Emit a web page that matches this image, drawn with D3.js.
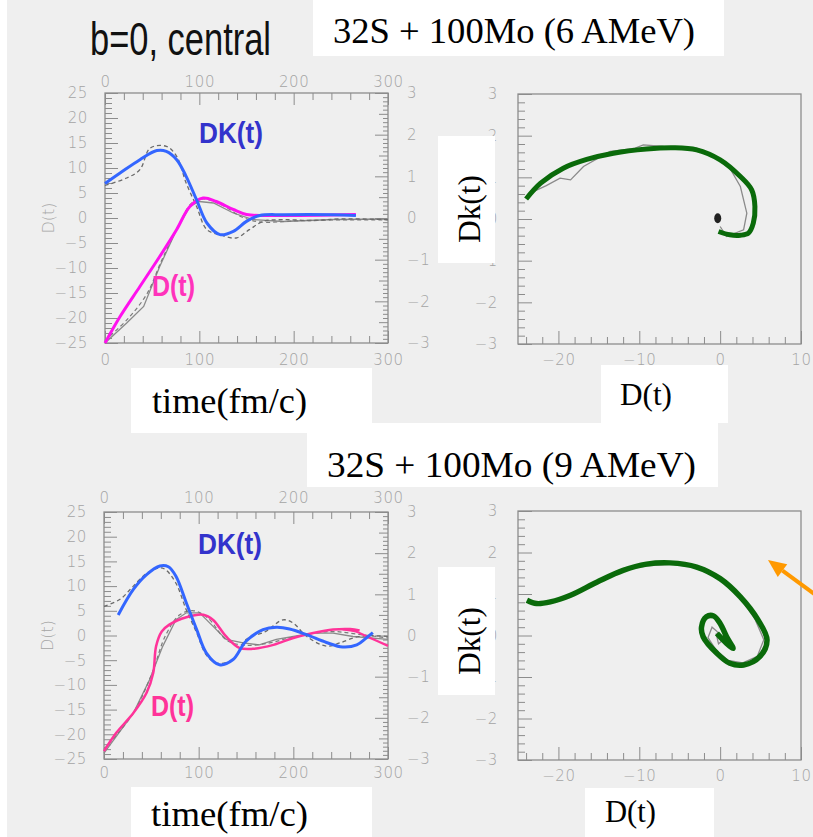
<!DOCTYPE html>
<html><head><meta charset="utf-8">
<script src="https://cdn.jsdelivr.net/npm/d3@7"></script>
<style>body{margin:0;background:#fff}svg{display:block}</style>
</head><body><svg id="c" width="813" height="837"></svg>
<script>
// ---------- tick values ----------
const timeTicks = [0, 100, 200, 300];
const dTicks = [-25, -20, -15, -10, -5, 0, 5, 10, 15, 20, 25];
const dkTicks = [-3, -2, -1, 0, 1, 2, 3];
const phaseXTicks = [-20, -10, 0, 10];

// ---------- 32S + 100Mo (6 AMeV) : time evolution ----------
// [time fm/c, value]; DK values on right axis (-3..3), D values on left axis (-25..25)
const dk6 = [[0,0.83],[16,1.08],[37,1.40],[55,1.62],[65,1.60],[76,1.40],[86,1.00],[97,0.44],[108,-0.12],[122,-0.40],[136,-0.32],[150,-0.08],[164,0.06],[189,0.08],[242,0.08],[266,0.06]];
const d6 = [[0,-25],[16,-19.7],[37,-13.7],[58,-7.7],[76,-2.3],[90,2.3],[104,4.0],[118,3.3],[136,1.7],[150,0.7],[171,0.5],[266,0.7]];
const d6Sim = [[0,-25],[23,-21],[41,-17.7],[58,-9.7],[76,-2.3],[90,2.3],[100,3.3],[115,3.0],[136,1.0],[157,-0.3],[189,-0.7],[242,-0.3],[300,-0.2]];
const d6SimDash = [[0,-24.5],[25,-20],[45,-15],[60,-8.5],[78,-1.5],[92,3.0],[105,3.8],[125,2.5],[145,0.2],[165,-0.8],[200,-0.6],[240,-0.4],[300,-0.4]];
const dk6SimDash = [[0,0.78],[23,0.96],[37,1.16],[48,1.68],[65,1.72],[76,1.48],[86,0.84],[97,0.28],[108,-0.28],[122,-0.40],[139,-0.48],[153,-0.28],[168,-0.08],[190,-0.04],[220,-0.06],[250,-0.02],[300,-0.04]];

// ---------- 32S + 100Mo (9 AMeV) : time evolution ----------
const dk9 = [[15,0.50],[31,1.12],[45,1.48],[59,1.69],[68,1.67],[76,1.44],[87,0.79],[98,0.14],[108,-0.42],[122,-0.71],[136,-0.59],[150,-0.14],[168,0.14],[182,0.20],[196,0.16],[214,0.02],[235,-0.17],[252,-0.28],[267,-0.23],[277,-0.06],[284,0.07]];
const d9 = [[0,-23.4],[13,-19.7],[31,-15.7],[45,-11.6],[52,-7.6],[55,-2.2],[61,0.8],[69,2.2],[87,3.7],[105,4.2],[115,3.2],[129,-0.2],[143,-2.5],[157,-2.7],[179,-1.9],[200,-0.5],[221,0.5],[242,1.2],[260,1.3],[270,1.0]];
const d9Tail = [[252,1.25],[266,0.8],[280,-0.4],[300,-2.1]];
const d9Sim = [[0,-23.8],[13,-20.4],[31,-15.7],[48,-9],[62,-2.2],[76,3.2],[87,4.6],[101,4.6],[115,1.9],[129,-0.8],[147,-1.5],[164,-1.9],[182,-0.8],[200,-0.2],[221,0.5],[242,0.5],[263,-0.2],[300,-0.8]];
const d9SimDash = [[0,-23],[30,-16],[50,-8],[65,0],[80,4.2],[95,5.0],[110,3.5],[130,-1],[150,-2],[175,-1.5],[200,-0.3],[240,0.8],[270,0.2],[300,-0.5]];
const dk9SimDash = [[0,0.71],[17,0.88],[31,1.20],[45,1.51],[59,1.64],[65,1.60],[76,1.27],[87,0.62],[98,0.06],[108,-0.47],[119,-0.67],[136,-0.59],[150,-0.10],[171,0.10],[189,0.38],[200,0.30],[214,-0.02],[235,-0.26],[249,-0.18],[270,-0.02],[300,-0.02]];

// ---------- phase space Dk vs D ----------
const phase6 = [[-24,0.48],[-22.2,0.86],[-19.4,1.22],[-16.5,1.43],[-13.2,1.58],[-9.1,1.68],[-5.8,1.71],[-2.9,1.66],[0,1.42],[2.5,1.02],[3.9,0.70],[4.3,0.30],[4.1,-0.10],[3.5,-0.34],[2.5,-0.39],[1.2,-0.38],[-0.2,-0.30]];
const phase6Sim = [[-23.5,0.62],[-21.5,0.8],[-19.8,0.98],[-18.5,0.94],[-16.9,1.26],[-13.6,1.62],[-12,1.66],[-10.5,1.70],[-9.5,1.78],[-7,1.74],[-2.9,1.70],[-0.4,1.46],[1.2,1.22],[2.5,0.78],[3.3,0.14],[2.9,-0.26],[0.8,-0.42],[0,-0.18]];
const phase6End = [[-0.3,0.02]];
const phase9 = [[-23.9,0.85],[-22.7,0.77],[-21,0.81],[-18.5,0.97],[-15.2,1.29],[-12,1.57],[-9.1,1.72],[-6.2,1.75],[-2.9,1.65],[0,1.37],[2.5,0.93],[4.7,0.37],[5.8,-0.11],[4.9,-0.51],[2.9,-0.71],[1.2,-0.67],[-0.4,-0.43],[-2.1,-0.03],[-2.3,0.21],[-1.7,0.45],[-0.8,0.47],[0,0.29],[0.8,-0.03],[1.6,-0.31],[0.8,-0.19],[-0.4,0.05]];
const phase9Sim = [[-23.5,0.78],[-21,0.80],[-18,1.00],[-15,1.30],[-12,1.58],[-9,1.68],[-6,1.72],[-3,1.64],[0,1.36],[2.3,0.95],[4.3,0.40],[5.4,-0.10],[4.6,-0.50],[2.8,-0.66],[1,-0.60],[-0.5,-0.35],[-1.5,-0.05],[-1,0.20],[-0.4,0.10],[0.4,-0.10],[-0.2,-0.20],[-0.5,0.05]];
const arrow9 = [[12.97,0.81],[5.92,1.82]];

// ---------- text ----------
const titles = ["32S + 100Mo (6 AMeV)", "32S + 100Mo (9 AMeV)"];

// ================= drawing =================
const svg = d3.select('#c');
const AX = '#8c8c8c', LBL = '#a4a4a4';
const BLUE = '#3366ff', MAG = '#ff11ee', PINK = '#ff3399', GREEN = '#0a6a0a';
const fmtTick = d => String(d).replace('-', '\u2212');

svg.append('rect').attr('width', 813).attr('height', 837).attr('fill', '#efefef');
svg.append('rect').attr('width', 7).attr('height', 837).attr('fill', '#ffffff');

function axis(gen, scale, tx, ty, values, size, labels, pad) {
  const ax = gen(scale).tickValues(values).tickSizeInner(size).tickSizeOuter(0).tickPadding(pad)
    .tickFormat(labels ? fmtTick : '');
  const g = svg.append('g').attr('transform', `translate(${tx},${ty})`).call(ax);
  g.select('.domain').remove();
  g.selectAll('line').attr('stroke', AX).attr('stroke-width', 1);
  g.selectAll('text').attr('fill', LBL)
    .style('font-family', 'DejaVu Sans').style('font-size', '15px')
    .style('font-weight', '300').style('letter-spacing', '0.6px');
  return g;
}
const rng = (a, b, s) => d3.range(Math.round(a / s), Math.round(b / s) + 1).map(i => +(i * s).toFixed(4));

function frame(b) {
  svg.append('rect').attr('x', b.x0).attr('y', b.y0).attr('width', b.x1 - b.x0).attr('height', b.y1 - b.y0)
    .attr('fill', 'none').attr('stroke', AX).attr('stroke-width', 1.3);
}

function timePanel(b, s) {
  const x = d3.scaleLinear([0, 300], [b.x0, b.x1]);
  const yD = d3.scaleLinear([-25, 25], [b.y1, b.y0]);
  const yK = d3.scaleLinear([-3, 3], [b.y1, b.y0]);
  const minorT = rng(0, 300, 20).filter(v => v % 100 !== 0);
  axis(d3.axisTop, x, 0, b.y0, timeTicks, -12, true, b.padTop);
  axis(d3.axisTop, x, 0, b.y0, minorT, -7, false, 0);
  axis(d3.axisBottom, x, 0, b.y1, timeTicks, -12, true, b.padBot);
  axis(d3.axisBottom, x, 0, b.y1, minorT, -7, false, 0);
  axis(d3.axisLeft, yD, b.x0, 0, dTicks, -13, true, 17);
  axis(d3.axisLeft, yD, b.x0, 0, rng(-25, 25, 1).filter(v => v % 5 !== 0), -7, false, 0);
  axis(d3.axisRight, yK, b.x1, 0, dkTicks, -13, true, 19);
  axis(d3.axisRight, yK, b.x1, 0, rng(-3, 3, 0.5).filter(v => v % 1 !== 0), -9, false, 0);
  axis(d3.axisRight, yK, b.x1, 0, rng(-3, 3, 0.1).filter(v => Math.abs(v * 2 - Math.round(v * 2)) > 1e-6), -5, false, 0);
  frame(b);
  svg.append('text').attr('transform', `translate(${b.x0 - 57},${(b.y0 + b.y1) / 2}) rotate(-90)`)
    .attr('text-anchor', 'middle').attr('dy', '0.35em').attr('fill', LBL)
    .style('font-family', 'DejaVu Sans').style('font-size', '16px').style('font-weight', '300').text('D(t)');

  const lD = d3.line().x(d => x(d[0])).y(d => yD(d[1])).curve(d3.curveCatmullRom.alpha(0.5));
  const lK = d3.line().x(d => x(d[0])).y(d => yK(d[1])).curve(d3.curveCatmullRom.alpha(0.5));
  const lDj = d3.line().x(d => x(d[0])).y(d => yD(d[1]));
  svg.append('path').attr('d', lDj(s.dSim)).attr('fill', 'none').attr('stroke', '#8a8a8a').attr('stroke-width', 1.3);
  svg.append('path').attr('d', lD(s.dSimDash)).attr('fill', 'none').attr('stroke', '#7a7a7a').attr('stroke-width', 1.2).attr('stroke-dasharray', '4,3');
  svg.append('path').attr('d', lK(s.dkSimDash)).attr('fill', 'none').attr('stroke', '#6a6a6a').attr('stroke-width', 1.3).attr('stroke-dasharray', '4,3');
  if (s.dTail) svg.append('path').attr('d', lD(s.dTail)).attr('fill', 'none').attr('stroke', s.dColor).attr('stroke-width', 2.2);
  svg.append('path').attr('d', lD(s.d)).attr('fill', 'none').attr('stroke', s.dColor).attr('stroke-width', s.dW);
  svg.append('path').attr('d', lK(s.dk)).attr('fill', 'none').attr('stroke', BLUE).attr('stroke-width', 3);

  svg.append('text').attr('x', b.x0 + 94).attr('y', s.dkLabelY).attr('fill', '#3333cc')
    .attr('textLength', 64).attr('lengthAdjust', 'spacingAndGlyphs')
    .style('font-family', 'Liberation Sans').style('font-weight', 'bold').style('font-size', '30px').text('DK(t)');
  svg.append('text').attr('x', b.x0 + 47).attr('y', s.dLabelY).attr('fill', s.dLabelColor)
    .attr('textLength', 43).attr('lengthAdjust', 'spacingAndGlyphs')
    .style('font-family', 'Liberation Sans').style('font-weight', 'bold').style('font-size', '30px').text('D(t)');
}

function phasePanel(b, s) {
  const x = d3.scaleLinear([-25, 10], [b.x0, b.x1]);
  const y = d3.scaleLinear([-3, 3], [b.y1, b.y0]);
  axis(d3.axisLeft, y, b.x0, 0, dkTicks, -14, true, 20);
  axis(d3.axisLeft, y, b.x0, 0, rng(-3, 3, 0.2).filter(v => Math.abs(v - Math.round(v)) > 1e-6), -7, false, 0);
  axis(d3.axisBottom, x, 0, b.y1, phaseXTicks, -13, true, b.padBot);
  axis(d3.axisBottom, x, 0, b.y1, rng(-24, 10, 2).filter(v => v % 10 !== 0), -7, false, 0);
  frame(b);
  const lj = d3.line().x(d => x(d[0])).y(d => y(d[1]));
  const lc = d3.line().x(d => x(d[0])).y(d => y(d[1])).curve(d3.curveCatmullRom.alpha(0.5));
  svg.append('path').attr('d', lj(s.sim)).attr('fill', 'none').attr('stroke', '#8a8a8a').attr('stroke-width', 1.3);
  if (s.end) svg.selectAll(null).data(s.end).join('ellipse')
    .attr('cx', d => x(d[0])).attr('cy', d => y(d[1])).attr('rx', 3.5).attr('ry', 5).attr('fill', '#222');
  svg.append('path').attr('d', lc(s.green)).attr('fill', 'none').attr('stroke', GREEN)
    .attr('stroke-width', s.w).attr('stroke-linejoin', 'round');
  if (s.arrow) {
    const [p0, p1] = s.arrow.map(d => [x(d[0]), y(d[1])]);
    const ang = Math.atan2(p1[1] - p0[1], p1[0] - p0[0]);
    const L = 18, W = 8;
    const base = [p1[0] - L * Math.cos(ang), p1[1] - L * Math.sin(ang)];
    svg.append('line').attr('x1', p0[0]).attr('y1', p0[1]).attr('x2', base[0]).attr('y2', base[1])
      .attr('stroke', '#ff9900').attr('stroke-width', 4);
    const nx = -Math.sin(ang), ny = Math.cos(ang);
    svg.append('path').attr('d', `M${p1[0]},${p1[1]}L${base[0] + nx * W},${base[1] + ny * W}L${base[0] - nx * W},${base[1] - ny * W}Z`)
      .attr('fill', '#ff9900');
  }
}

const B1 = {x0: 105, x1: 388, y0: 93, y1: 343, padTop: 6, padBot: 11};
const B2 = {x0: 104, x1: 388, y0: 512, y1: 759, padTop: 9, padBot: 8};
const B3 = {x0: 518, x1: 801, y0: 94, y1: 344, padBot: 10};
const B4 = {x0: 518, x1: 801, y0: 511, y1: 760, padBot: 10};

timePanel(B1, {d: d6, dk: dk6, dSim: d6Sim, dSimDash: d6SimDash, dkSimDash: dk6SimDash,
  dColor: MAG, dW: 3, dLabelColor: '#ff33bb', dkLabelY: 143, dLabelY: 296});
timePanel(B2, {d: d9, dk: dk9, dSim: d9Sim, dSimDash: d9SimDash, dkSimDash: dk9SimDash, dTail: d9Tail,
  dColor: PINK, dW: 2.5, dLabelColor: '#ff3399', dkLabelY: 554, dLabelY: 716});
phasePanel(B3, {green: phase6, sim: phase6Sim, end: phase6End, w: 5});
phasePanel(B4, {green: phase9, sim: phase9Sim, w: 5.5, arrow: arrow9});

// ---------- white label boxes & texts ----------
function box(x, y, w, h) { svg.append('rect').attr('x', x).attr('y', y).attr('width', w).attr('height', h).attr('fill', '#fff'); }
function serif(t, x, y, size, len, rot) {
  const e = svg.append('text').attr('fill', '#000').style('font-family', 'Liberation Serif').style('font-size', size + 'px')
    .attr('textLength', len).attr('lengthAdjust', 'spacingAndGlyphs').text(t);
  if (rot) e.attr('transform', `translate(${x},${y}) rotate(-90)`).attr('text-anchor', 'middle');
  else e.attr('x', x).attr('y', y);
}
box(313, 0, 411, 56);
serif(titles[0], 333, 43, 35, 362);
box(307, 423, 411, 64);
serif(titles[1], 327, 477, 35, 369);
box(131, 368, 241, 65);
serif('time(fm/c)', 152, 413, 35, 155);
box(131, 787, 241, 50);
serif('time(fm/c)', 151, 826, 35, 157);
box(601, 365, 127, 58);
serif('D(t)', 620, 405, 32, 52);
box(585, 788, 129, 49);
serif('D(t)', 605, 822, 32, 51);
box(438, 136, 57, 127);
serif('Dk(t)', 480, 209, 31, 68, true);
box(438, 567, 57, 128);
serif('Dk(t)', 480, 641, 31, 68, true);

svg.append('text').attr('x', 90).attr('y', 55).attr('fill', '#111')
  .attr('textLength', 181).attr('lengthAdjust', 'spacingAndGlyphs')
  .style('font-family', 'Liberation Sans').style('font-size', '47px').text('b=0, central');
</script>
</body></html>
